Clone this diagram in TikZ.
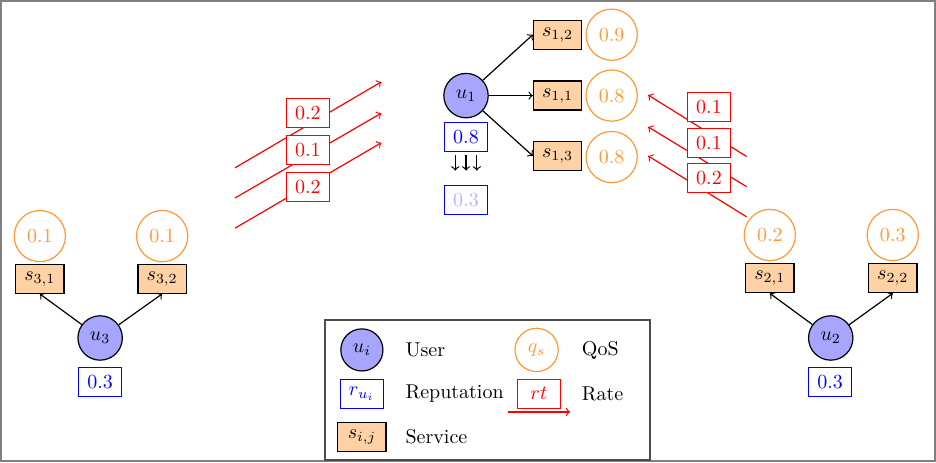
\documentclass[tikz,border=0pt]{standalone}
\begin{document}
\begin{tikzpicture}[semithick,
        user/.style={circle, draw, fill=blue!35, minimum size=0.78cm, inner sep=1pt},
        service/.style={rectangle, draw, fill=orange!35, minimum width=0.85cm, minimum height=0.51cm, inner sep=2pt},
        qos/.style={circle, draw=orange!80, text=orange!80, minimum size=0.9cm, inner sep=1pt},
        rep/.style={rectangle, draw=blue, text=blue, minimum width=0.76cm, minimum height=0.51cm, inner sep=2pt},
        rate/.style={rectangle, draw=red, text=red, fill=white, minimum width=0.76cm, minimum height=0.51cm, inner sep=2pt},
        link/.style={draw, ->},
        ratelink/.style={draw=red, ->}
    ]
        % Frame
        \useasboundingbox (0, 0) rectangle (16.45, -8.12);
        \draw[gray, line width=1pt] (0.02, -0.02) rectangle (16.43, -8.10);

        % User 1 and its services
        \node[user] (u1) at (8.19, -1.68) {$u_1$};
        \node[rep] (r1) at (8.19, -2.41) {0.8};
        \node[rep, text=blue!30] (r1new) at (8.19, -3.51) {0.3};
        \node[service] (s12) at (9.80, -0.61) {$s_{1,2}$};
        \node[service] (s11) at (9.80, -1.68) {$s_{1,1}$};
        \node[service] (s13) at (9.80, -2.74) {$s_{1,3}$};
        \node[qos] (q12) at (10.75, -0.61) {0.9};
        \node[qos] (q11) at (10.75, -1.68) {0.8};
        \node[qos] (q13) at (10.75, -2.76) {0.8};

        \draw[link] (u1) -- (s12.west);
        \draw[link] (u1) -- (s11.west);
        \draw[link] (u1) -- (s13.west);
        \foreach \dx in {-0.19, 0, 0.19}
            \draw[->, shorten <=1.5pt, shorten >=7pt] ([xshift=\dx cm]r1.south) -- ([xshift=\dx cm]r1new.north);

        % User 2 and its services
        \node[user] (u2) at (14.60, -5.94) {$u_2$};
        \node[rep] (r2) at (14.59, -6.71) {0.3};
        \node[service] (s21) at (13.53, -4.89) {$s_{2,1}$};
        \node[service] (s22) at (15.69, -4.89) {$s_{2,2}$};
        \node[qos] (q21) at (13.53, -4.13) {0.2};
        \node[qos] (q22) at (15.69, -4.13) {0.3};

        \draw[link] (u2) -- (s21.south);
        \draw[link] (u2) -- (s22.south);

        % User 3 and its services
        \node[user] (u3) at (1.76, -5.94) {$u_3$};
        \node[rep] (r3) at (1.76, -6.71) {0.3};
        \node[service] (s31) at (0.70, -4.90) {$s_{3,1}$};
        \node[service] (s32) at (2.85, -4.90) {$s_{3,2}$};
        \node[qos] (q31) at (0.70, -4.15) {0.1};
        \node[qos] (q32) at (2.85, -4.15) {0.1};

        \draw[link] (u3) -- (s31.south);
        \draw[link] (u3) -- (s32.south);

        % Rates given by user 3
        \coordinate (la1) at (4.13, -2.95);
        \coordinate (la2) at (4.13, -3.48);
        \coordinate (la3) at (4.13, -4.01);
        \coordinate (lb1) at (6.70, -1.44);
        \coordinate (lb2) at (6.70, -1.99);
        \coordinate (lb3) at (6.70, -2.51);
        \draw[ratelink] (la1) -- (lb1);
        \draw[ratelink] (la2) -- (lb2);
        \draw[ratelink] (la3) -- (lb3);
        \node[rate] (lrate1) at (5.41, -1.99) {0.2};
        \node[rate] (lrate2) at (5.41, -2.64) {0.1};
        \node[rate] (lrate3) at (5.41, -3.29) {0.2};

        % Rates given by user 2
        \coordinate (ra1) at (13.12, -2.75);
        \coordinate (ra2) at (13.12, -3.28);
        \coordinate (ra3) at (13.12, -3.81);
        \coordinate (rb1) at (11.39, -1.67);
        \coordinate (rb2) at (11.39, -2.23);
        \coordinate (rb3) at (11.39, -2.74);
        \draw[ratelink] (ra1) -- (rb1);
        \draw[ratelink] (ra2) -- (rb2);
        \draw[ratelink] (ra3) -- (rb3);
        \node[rate] (rrate1) at (12.46, -1.88) {0.1};
        \node[rate] (rrate2) at (12.46, -2.51) {0.1};
        \node[rate] (rrate3) at (12.46, -3.13) {0.2};

        % Legend
        \draw[black!70, line width=0.8pt] (5.71, -5.62) rectangle (11.42, -8.08);
        \node[user, minimum size=0.74cm] (leguser) at (6.36, -6.15) {$u_i$};
        \node[anchor=west] (legusertxt) at (7.00, -6.15) {User};
        \node[rep] (legrep) at (6.36, -6.92) {$r_{u_i}$};
        \node[anchor=west] (legreptxt) at (7.00, -6.92) {Reputation};
        \node[service] (legservice) at (6.36, -7.68) {$s_{i,j}$};
        \node[anchor=west] (legservicetxt) at (7.00, -7.68) {Service};
        \node[qos, minimum size=0.76cm] (legqos) at (9.43, -6.15) {$q_s$};
        \node[anchor=west] (legqostxt) at (10.10, -6.15) {QoS};
        \node[rate] (legrate) at (9.47, -6.92) {$rt$};
        \node[anchor=west] (legratetxt) at (10.10, -6.92) {Rate};
        \coordinate (legra) at (8.93, -7.24);
        \coordinate (legrb) at (10.02, -7.24);
        \draw[ratelink] (legra) -- (legrb);
    \end{tikzpicture}
\end{document}
